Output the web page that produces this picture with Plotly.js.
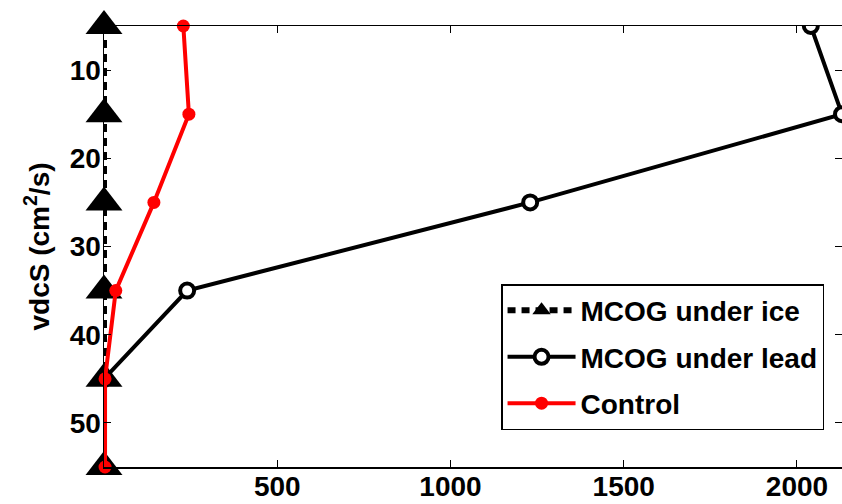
<!DOCTYPE html>
<html>
<head>
<script src="https://cdn.plot.ly/plotly-3.0.1.min.js"></script>
<style>html,body{margin:0;padding:0;background:#fff;}#chart{width:842px;height:504px;}</style>
</head>
<body>
<div id="chart"></div>
<script>
var depth = [5, 15, 25, 35, 45, 55];
var iceValues = [0, 0, 0, 0, 0, 0];
var leadValues = [2040, 2130, 1230, 240, 0, 0];
var controlValues = [229, 245, 144, 34, 3, 3];
var xTickVals = [500, 1000, 1500, 2000];
var yTickVals = [10, 20, 30, 40, 50];

var FAM = 'Liberation Sans, Arial, sans-serif';
function bold(sz) { return {family: FAM, size: sz, color: '#000', weight: 'bold'}; }

var traces = [
  {
    x: iceValues, y: depth, name: 'MCOG under ice', mode: 'lines+markers', legendgroup: 'a',
    line: {color: '#000', width: 6, dash: '8px,6px'},
    marker: {symbol: 'triangle-up', size: 32, color: '#000'},
    cliponaxis: false
  },
  {
    x: leadValues, y: depth, name: 'MCOG under lead', mode: 'lines+markers', legendgroup: 'b',
    line: {color: '#000', width: 4},
    marker: {symbol: 'circle', size: 14, color: '#fff', line: {color: '#000', width: 4}}
  },
  {
    x: controlValues, y: depth, name: 'Control', mode: 'lines+markers', legendgroup: 'c',
    line: {color: '#ff0000', width: 4},
    marker: {symbol: 'circle', size: 13, color: '#ff0000'},
    cliponaxis: false
  }
];

var layout = {
  width: 842, height: 504,
  margin: {l: 104, r: 0, t: 26, b: 37},
  paper_bgcolor: '#fff', plot_bgcolor: '#fff',
  font: bold(28),
  showlegend: true,
  legend: {
    x: 0.538, y: 0.4146, xanchor: 'left', yanchor: 'top',
    bgcolor: '#fff', bordercolor: '#000', borderwidth: 1.5,
    font: bold(28),
    itemwidth: 68, tracegroupgap: 7
  },
  xaxis: {
    range: [0, 2130], tickvals: xTickVals, ticktext: xTickVals.map(String),
    ticks: 'inside', ticklen: 7, tickcolor: '#000', tickwidth: 1,
    showline: true, linecolor: '#000', linewidth: 1.5, mirror: 'ticks',
    showgrid: false, zeroline: false,
    tickfont: bold(28), ticklabelstandoff: -6
  },
  yaxis: {
    range: [55, 5], tickvals: yTickVals, ticktext: yTickVals.map(String),
    ticks: 'inside', ticklen: 7, tickcolor: '#000', tickwidth: 1,
    showline: true, linecolor: '#000', linewidth: 1.5, mirror: 'ticks',
    showgrid: false, zeroline: false,
    tickfont: bold(28), ticklabelstandoff: -4,
    title: {text: 'vdcS (cm<sup>2</sup>/s)', standoff: 12, font: bold(28)}
  }
};

Plotly.newPlot('chart', traces, layout, {staticPlot: true});
</script>
</body>
</html>
